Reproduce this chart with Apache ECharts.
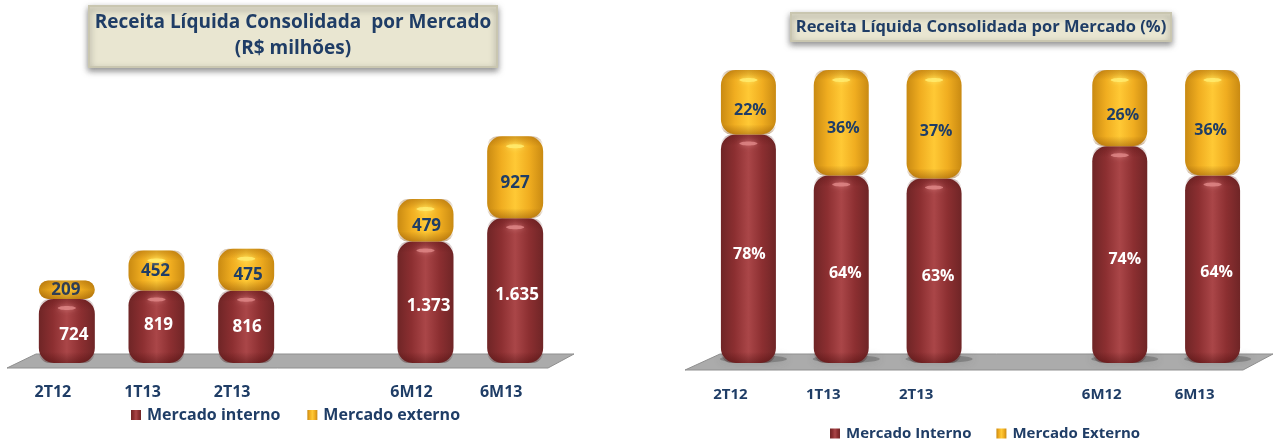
<!DOCTYPE html>
<html><head><meta charset="utf-8">
<style>html,body{margin:0;padding:0;background:#fff}#c{width:1273px;height:442px}</style>
<script src="https://cdn.jsdelivr.net/npm/echarts@6/dist/echarts.min.js"></script>
</head><body><div id="c"></div>
<script>
const categories = ['2T12', '1T13', '2T13', '', '6M12', '6M13'];
const internoLeft = [724, 819, 816, null, 1373, 1635];
const externoLeft = [209, 452, 475, null, 479, 927];
const labelsInternoLeft = ['724', '819', '816', '', '1.373', '1.635'];
const labelsExternoLeft = ['209', '452', '475', '', '479', '927'];
const internoRight = [78, 64, 63, null, 74, 64];
const externoRight = [22, 36, 37, null, 26, 36];
const NAVY = '#1f3d66';
const FONT = '"Open Sans", "Noto Sans", sans-serif';

function cyl(stops) {
  return { type: 'linear', x: 0, y: 0, x2: 1, y2: 0,
    colorStops: stops.map((c, i) => ({ offset: i / (stops.length - 1), color: c })) };
}
function fade(col, up) {
  return { type: 'linear', x: 0, y: up ? 0 : 1, x2: 0, y2: up ? 1 : 0,
    colorStops: [{ offset: 0, color: col }, { offset: 1, color: col.replace(/[\d.]+\)$/, '0)') }] };
}
const RED = cyl(['#6f2526', '#8c2f31', '#aa4648', '#8c2f31', '#6f2526']);
const GOLD = cyl(['#c98a12', '#f0ad20', '#ffc935', '#f0ad20', '#c98a12']);

// small manual label nudges as in the source picture [dx, dy]
const shiftIL = [[7, 4], [2, -2], [1, 0], null, [3, 4], [2, 5]];
const shiftEL = [[-1, 0], [-1, 1], [2, 5], null, [1, 6], [0, 6]];
const shiftIR = [[1, 6], [4, 4], [4, 6], null, [5, 5], [4, 3]];
const shiftER = [[2, 8], [2, 6], [2, 7], null, [3, 7], [-2, 8]];

function barSeries(name, vals, color, xi, texts, shifts, labelColor, fs, stack, w, isTop) {
  return {
    name, type: 'bar', stack, xAxisIndex: xi, yAxisIndex: xi, barWidth: w,
    itemStyle: { color, borderRadius: 15 }, z: isTop ? 3 : 2,
    data: vals.map((v, i) => ({
      value: v,
      label: {
        show: v != null, position: 'inside', color: labelColor, fontFamily: FONT, fontWeight: 700, fontSize: fs,
        offset: shifts[i] || [0, 0], formatter: texts[i]
      }
    }))
  };
}

// gloss spots and rim shading, placed from the stacked values
function gloss(a, b, xi, w) {
  const pts = [];
  a.forEach((v, i) => { if (v != null) pts.push([i, v, v + b[i]]); });
  return {
    type: 'custom', xAxisIndex: xi, yAxisIndex: xi, z: 5, silent: true,
    data: pts, encode: { x: 0, y: 1 },
    renderItem(params, api) {
      const i = api.value(0);
      const x = api.coord([i, 0])[0];
      const y0 = api.coord([i, 0])[1];
      const y1 = api.coord([i, api.value(1)])[1];
      const y2 = api.coord([i, api.value(2)])[1];
      const spot = (cy, col) => ({ type: 'ellipse', shape: { cx: x, cy, rx: 9, ry: 2 },
        style: { fill: col, shadowBlur: 5, shadowColor: col } });
      const rim = (top, h, isTop, col, r) => ({ type: 'rect',
        shape: { x: x - w / 2, y: top, width: w, height: h, r: isTop ? [r, r, 0, 0] : [0, 0, r, r] },
        style: { fill: fade(col, isTop) } });
      const hTop = y1 - y2;
      const kids = [
        rim(y1, 11, true, 'rgba(70,10,10,0.30)', 15),
        rim(y0 - 11, 11, false, 'rgba(60,5,5,0.40)', 15),
        rim(y2, Math.min(hTop / 2, 10), true, 'rgba(130,70,0,0.35)', 15),
        rim(y1 - Math.min(hTop / 2, 10), Math.min(hTop / 2, 10), false, 'rgba(130,70,0,0.45)', 15),
        spot(y1 + 9, 'rgba(228,140,140,0.75)')
      ];
      if (hTop > 30) kids.push(spot(y2 + 10, 'rgba(255,236,110,0.85)'));
      return { type: 'group', children: kids };
    }
  };
}
function floorShadow(a, xi, w) {
  return {
    type: 'custom', xAxisIndex: xi, yAxisIndex: xi, z: 1, silent: true,
    data: a.map((v, i) => [i, v]).filter(d => d[1] != null), encode: { x: 0, y: 1 },
    renderItem(params, api) {
      const p = api.coord([api.value(0), 0]);
      return { type: 'ellipse', shape: { cx: p[0] + 5, cy: p[1] - 4, rx: w / 2 + 6, ry: 4 },
        style: { fill: 'rgba(70,70,70,0.35)', shadowBlur: 8, shadowColor: 'rgba(70,70,70,0.6)' } };
    }
  };
}
function floor(pts) {
  return { type: 'polygon', z: 0, shape: { points: pts }, style: { fill: '#ababab', stroke: '#8f8f8f', lineWidth: 1 } };
}
function titleBox(text, cx, top, fs, lh, pad) {
  return {
    text, left: cx, top, textAlign: 'center',
    backgroundColor: '#e9e6d1', borderColor: '#c9c6b0', borderWidth: 2,
    shadowBlur: 6, shadowColor: 'rgba(70,70,70,0.6)', shadowOffsetX: 0, shadowOffsetY: 3,
    padding: pad,
    textStyle: { color: NAVY, fontFamily: FONT, fontWeight: 700, fontSize: fs, lineHeight: lh }
  };
}
function xAx(gi, pad, margin, fs) {
  return {
    type: 'category', gridIndex: gi, data: categories,
    axisLine: { show: false }, axisTick: { show: false },
    axisLabel: { margin, interval: 0, color: NAVY, fontFamily: FONT, fontWeight: 700, fontSize: fs, padding: [0, pad, 0, 0] }
  };
}
function yAx(gi, max) {
  return { type: 'value', gridIndex: gi, min: 0, max, show: false };
}
function legendAt(names, left, top, fs, gap) {
  return { data: names.map(name => ({ name, icon: 'rect' })), left, top, orient: 'horizontal',
    itemWidth: 10, itemHeight: 10, itemGap: gap, padding: 0,
    itemStyle: { borderRadius: 0 },
    textStyle: { color: NAVY, fontFamily: FONT, fontWeight: 700, fontSize: fs, padding: [0, 0, 0, 1] } };
}

const chart = echarts.init(document.getElementById('c'), null, { renderer: 'canvas' });
chart.setOption({
  animation: false,
  backgroundColor: '#ffffff',
  title: [
    titleBox('Receita Líquida Consolidada  por Mercado\n(R$ milhões)', 287, 6, 19, 26, [4, 6, 5, 6]),
    titleBox('Receita Líquida Consolidada por Mercado (%)', 976, 13, 16.5, 22, [3, 5, 3, 5])
  ],
  grid: [
    { left: 22, width: 538, top: 97.5, height: 265.5 },
    { left: 702, width: 557, top: 70, height: 293 }
  ],
  xAxis: [xAx(0, 28, 21, 16), xAx(1, 36, 24, 15)],
  yAxis: [yAx(0, 3000), yAx(1, 100)],
  legend: [
    legendAt(['Mercado interno', 'Mercado externo'], 131, 407, 16, 27),
    legendAt(['Mercado Interno', 'Mercado Externo'], 830, 426, 15, 25)
  ],
  graphic: [
    floor([[7, 368], [36, 354], [574, 354], [548, 368]]),
    floor([[685, 370], [720, 354], [1273, 354], [1243, 370]])
  ],
  series: [
    floorShadow(internoRight, 1, 55),
    barSeries('Mercado interno', internoLeft, RED, 0, labelsInternoLeft, shiftIL, '#fff', 17, 'L', 56, false),
    barSeries('Mercado externo', externoLeft, GOLD, 0, labelsExternoLeft, shiftEL, NAVY, 17, 'L', 56, true),
    barSeries('Mercado Interno', internoRight, RED, 1, internoRight.map(v => v == null ? '' : v + '%'), shiftIR, '#fff', 16, 'R', 55, false),
    barSeries('Mercado Externo', externoRight, GOLD, 1, externoRight.map(v => v == null ? '' : v + '%'), shiftER, NAVY, 16, 'R', 55, true),
    gloss(internoLeft, externoLeft, 0, 56),
    gloss(internoRight, externoRight, 1, 55)
  ]
});
</script></body></html>
